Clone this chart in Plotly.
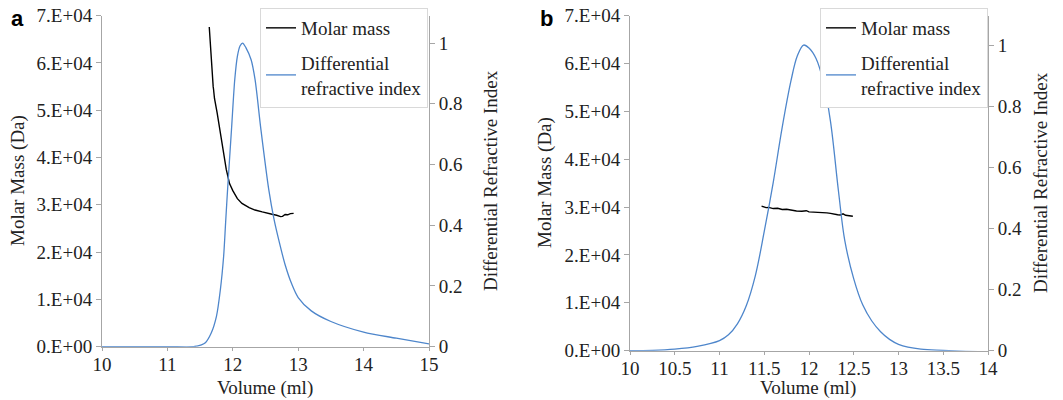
import plotly.graph_objects as go

# panel a - differential refractive index
vol_ri_a = [10.0, 11.0, 11.40, 11.45, 11.52, 11.58, 11.67, 11.75, 11.81, 11.86, 11.89, 11.92,
            11.98, 12.03, 12.07, 12.11, 12.15, 12.20, 12.28, 12.34, 12.43, 12.55, 12.63, 12.71,
            12.80, 12.90, 13.0, 13.2, 13.5, 14.0, 14.5, 15.0]
ri_a = [0.0, 0.0, 0.0, 0.002, 0.006, 0.013, 0.045, 0.10, 0.188, 0.298, 0.408, 0.517,
        0.715, 0.88, 0.956, 0.99, 1.0, 0.985, 0.945, 0.88, 0.715, 0.517, 0.42, 0.345,
        0.27, 0.207, 0.162, 0.118, 0.083, 0.048, 0.028, 0.009]

# panel a - molar mass
vol_mm_a = [11.64, 11.66, 11.685, 11.70, 11.705, 11.72, 11.76, 11.80, 11.86, 11.90, 11.95, 12.0,
            12.07, 12.14, 12.25, 12.34, 12.45, 12.52, 12.60, 12.67, 12.73, 12.76, 12.80, 12.84,
            12.88, 12.93]
mm_a = [67600, 62500, 57000, 55000, 54500, 52500, 49500, 46000, 41500, 37500, 34500, 33000,
        31300, 30300, 29400, 28900, 28500, 28200, 28000, 27800, 27500, 27550, 27950, 27900,
        28150, 28200]

# panel b - differential refractive index
vol_ri_b = [10.0, 10.25, 10.5, 10.75, 11.0, 11.1, 11.2, 11.3, 11.4, 11.5, 11.6, 11.7,
            11.8, 11.87, 11.94, 12.0, 12.08, 12.16, 12.24, 12.33, 12.4, 12.5, 12.6, 12.7,
            12.8, 12.9, 13.0, 13.25, 13.5, 13.75, 14.0]
ri_b = [0.0, 0.001, 0.005, 0.014, 0.033, 0.052, 0.088, 0.148, 0.245, 0.39, 0.55, 0.73,
        0.885, 0.965, 1.0, 0.99, 0.955, 0.88, 0.75, 0.52, 0.36, 0.235, 0.15, 0.098,
        0.062, 0.037, 0.021, 0.005, 0.001, -0.002, -0.004]

# panel b - molar mass
vol_mm_b = [11.47, 11.52, 11.55, 11.60, 11.65, 11.70, 11.75, 11.80, 11.86, 11.92, 11.97, 12.0,
            12.05, 12.10, 12.15, 12.20, 12.24, 12.28, 12.32, 12.35, 12.38, 12.41, 12.45, 12.49]
mm_b = [30200, 29900, 29950, 29700, 29750, 29500, 29550, 29350, 29200, 29150, 29250, 29000,
        28950, 29000, 28850, 28800, 28700, 28500, 28400, 28350, 28600, 28300, 28200, 28100]

mm_ticks = [0, 10000, 20000, 30000, 40000, 50000, 60000, 70000]
mm_labels = ["0.E+00", "1.E+04", "2.E+04", "3.E+04", "4.E+04", "5.E+04", "6.E+04", "7.E+04"]
ri_ticks = [0, 0.2, 0.4, 0.6, 0.8, 1]
ri_labels = ["0", "0.2", "0.4", "0.6", "0.8", "1"]
xa_ticks = [10, 11, 12, 13, 14, 15]
xb_ticks = [10, 10.5, 11, 11.5, 12, 12.5, 13, 13.5, 14]
xb_labels = ["10", "10.5", "11", "11.5", "12", "12.5", "13", "13.5", "14"]

BLUE = "#4e86cb"
AXC = "#a6a6a6"
TXT = "#222222"
SERIF = "Liberation Serif, Times New Roman, serif"
W, H = 1063, 400

fig = go.Figure()
fig.add_trace(go.Scatter(x=vol_mm_a, y=mm_a, name="Molar mass", mode="lines", legendgroup="a1",
                         line=dict(color="black", width=1.4), xaxis="x", yaxis="y", legend="legend"))
fig.add_trace(go.Scatter(x=vol_ri_a, y=ri_a, name="Differential<br>refractive index", mode="lines",
                         legendgroup="a2",
                         line=dict(color=BLUE, width=1.3, shape="spline", smoothing=0.8),
                         xaxis="x", yaxis="y2", legend="legend"))
fig.add_trace(go.Scatter(x=vol_mm_b, y=mm_b, name="Molar mass", mode="lines", legendgroup="b1",
                         line=dict(color="black", width=1.4), xaxis="x2", yaxis="y3", legend="legend2"))
fig.add_trace(go.Scatter(x=vol_ri_b, y=ri_b, name="Differential<br>refractive index", mode="lines",
                         legendgroup="b2",
                         line=dict(color=BLUE, width=1.3, shape="spline", smoothing=1.0),
                         xaxis="x2", yaxis="y4", legend="legend2"))

axis_common = dict(showgrid=False, zeroline=False, showline=True, linecolor=AXC, linewidth=1,
                   ticks="outside", ticklen=5, tickcolor=AXC, automargin=False,
                   tickfont=dict(family=SERIF, size=19, color=TXT))
x_common = dict(axis_common, ticklen=3, ticklabelstandoff=-3)

ya_dom = [1 - 346.7 / H, 1 - 15.7 / H]
yb_dom = [1 - 350.7 / H, 1 - 15.7 / H]

legend_style = dict(xanchor="left", yanchor="top", bordercolor="#d9d9d9", borderwidth=1,
                    bgcolor="white", font=dict(family=SERIF, size=19, color=TXT),
                    itemwidth=30, tracegroupgap=7)

fig.update_layout(
    width=W, height=H, margin=dict(l=0, r=0, t=0, b=0, autoexpand=False),
    paper_bgcolor="white", plot_bgcolor="white",
    xaxis=dict(domain=[102 / W, 429 / W], anchor="y", range=[10, 15],
               tickvals=xa_ticks, **x_common),
    yaxis=dict(domain=ya_dom, anchor="x", range=[0, 70000], tickvals=mm_ticks,
               ticktext=mm_labels, **axis_common),
    yaxis2=dict(overlaying="y", anchor="x", side="right", range=[0, 1.09],
                tickvals=ri_ticks, ticktext=ri_labels, **axis_common),
    xaxis2=dict(domain=[630 / W, 988 / W], anchor="y3", range=[10, 14],
                tickvals=xb_ticks, ticktext=xb_labels, **x_common),
    yaxis3=dict(domain=yb_dom, anchor="x2", range=[0, 70000], tickvals=mm_ticks,
                ticktext=mm_labels, **axis_common),
    yaxis4=dict(overlaying="y3", anchor="x2", side="right", range=[0, 1.096],
                tickvals=ri_ticks, ticktext=ri_labels, **axis_common),
    legend=dict(x=260 / W, y=1 - 8 / H, **legend_style),
    legend2=dict(x=820 / W, y=1 - 8 / H, **legend_style),
    showlegend=True,
)

# axis titles and panel letters
titles = [
    ("Molar Mass (Da)", 18, 181, -90),
    ("Differential Refractive Index", 490, 181, -90),
    ("Volume (ml)", 265, 388, 0),
    ("Molar Mass (Da)", 545, 183, -90),
    ("Differential Refractive Index", 1040, 183, -90),
    ("Volume (ml)", 808, 388, 0),
]
for text, px, py, ang in titles:
    fig.add_annotation(text=text, x=px / W, y=1 - py / H, xref="paper", yref="paper",
                       showarrow=False, textangle=ang, xanchor="center", yanchor="middle",
                       font=dict(family=SERIF, size=19, color=TXT))
for text, px in [("a", 17), ("b", 546)]:
    fig.add_annotation(text="<b>%s</b>" % text, x=px / W, y=1 - 19 / H, xref="paper", yref="paper",
                       showarrow=False, xanchor="center", yanchor="middle",
                       font=dict(family="Liberation Sans, Arial, sans-serif", size=22, color="black"))

# drop the default page margin so the figure sits at the window's top-left corner
fig.write_html("out.html", config={"displayModeBar": False},
               post_script="document.body.style.margin='0';")
